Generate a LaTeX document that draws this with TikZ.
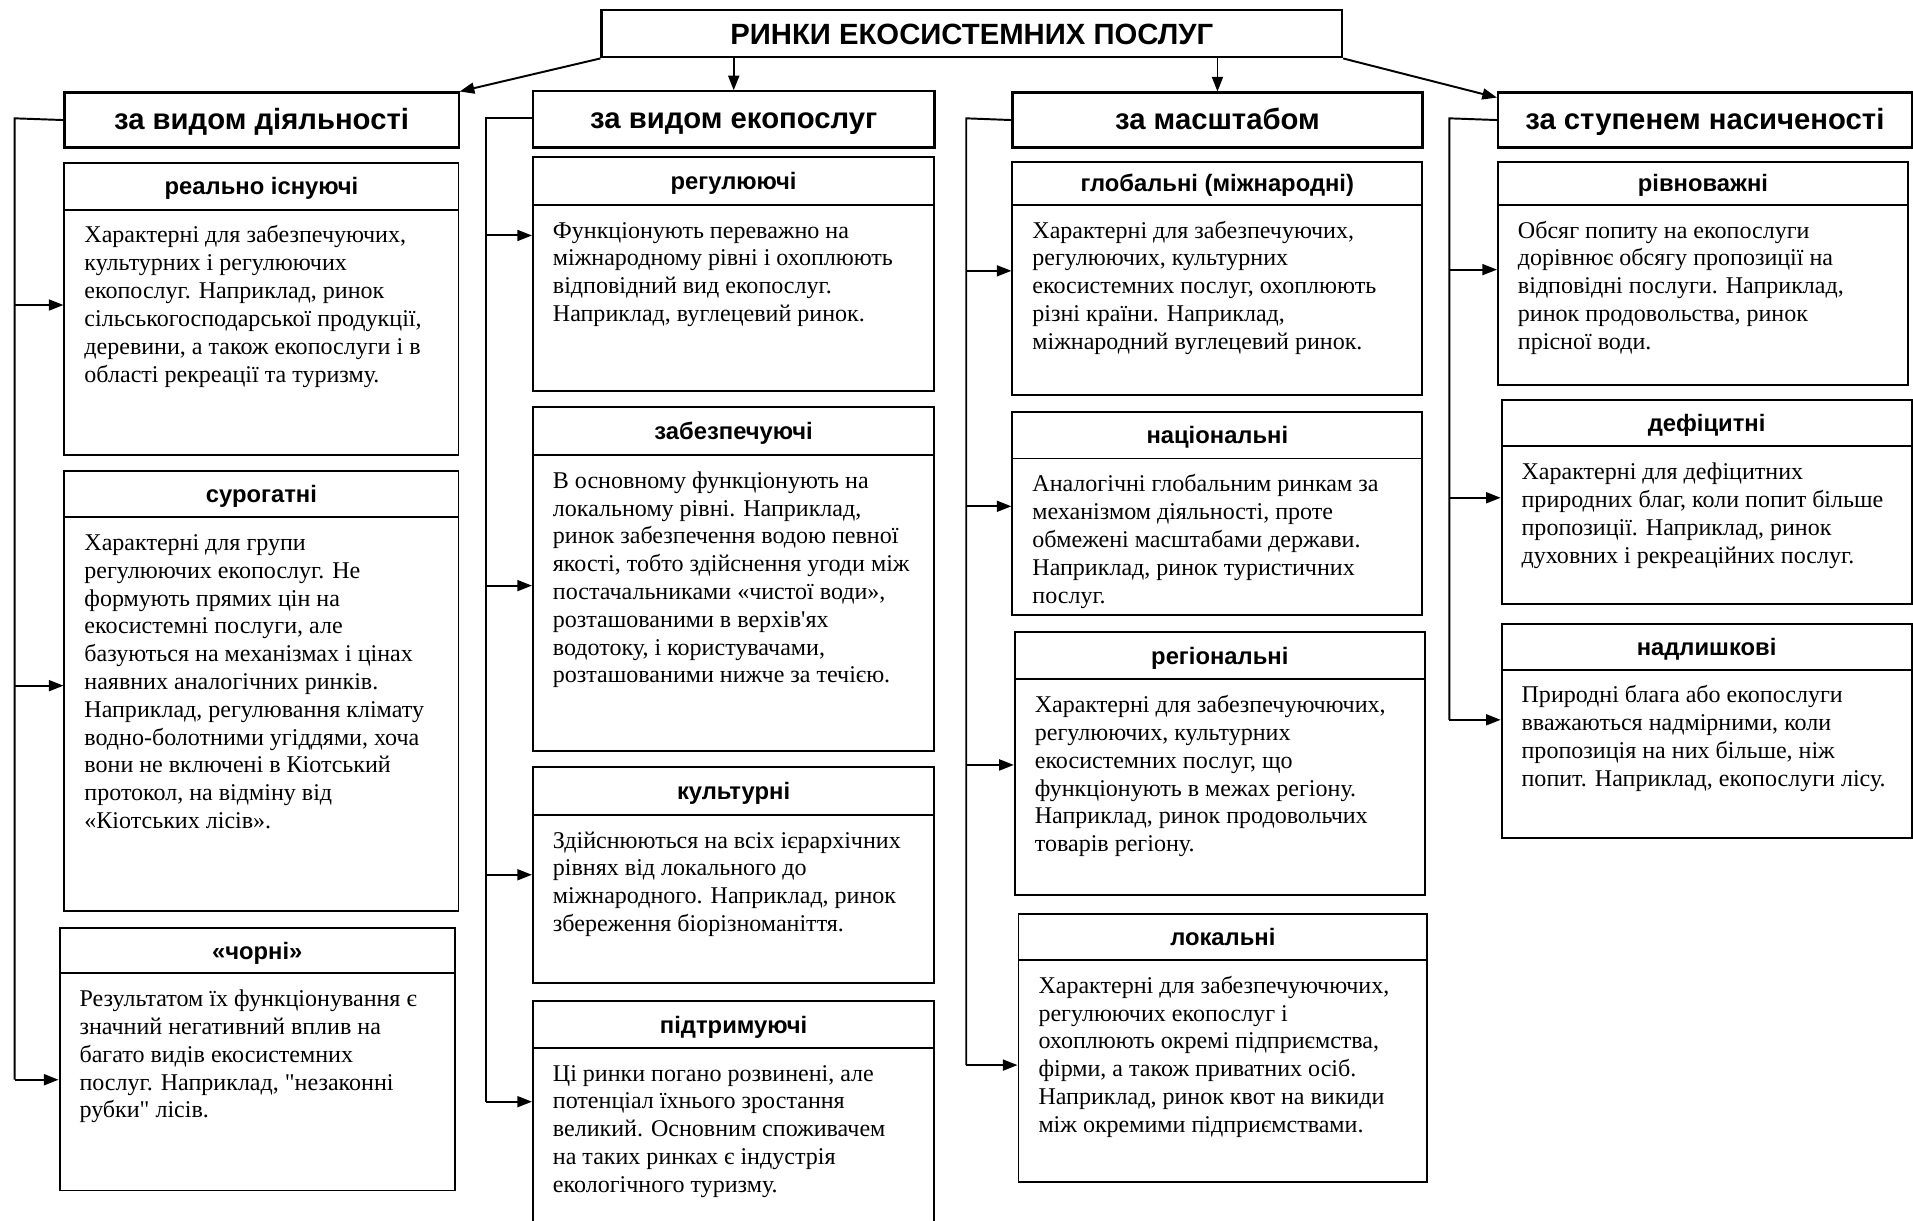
\documentclass[tikz,border=0pt]{standalone}
\usepackage{fontspec}
\setmainfont{Liberation Serif}[Ligatures=TeXOff]
\newfontfamily\hsans{Liberation Sans}
\usetikzlibrary{arrows.meta}
% name, x-left, y-top, y-separator, y-bottom, x-right, title, text, arrow-y
\newcommand\ecobox[9]{%
  \node[hdr, minimum width=#6pt-#2pt, minimum height=#4pt-#3pt] (#1h) at (#2,#3) {#7};
  \node[bodybox, minimum width=#6pt-#2pt, minimum height=#5pt-#4pt] (#1) at (#2,#4) {};
  \node[txt] (#1t) at ([xshift=17pt,yshift=-12pt]#1.north west) {\strut #8};
  \coordinate (#1-p) at (#2,#9);
}
\begin{document}
\begin{tikzpicture}[x=1pt,y=-1pt,
  ln/.style={line width=1.6pt},
  arr/.style={ln,-{Triangle[length=12pt,width=9pt]}},
  titlebox/.style={draw, line width=1.8pt, inner sep=0pt, text height=17.2pt, text depth=0pt, font=\hsans\bfseries\fontsize{24}{28}\selectfont},
  cat/.style={draw, line width=1.8pt, inner sep=0pt, anchor=north west, text height=20pt, text depth=5pt, font=\hsans\bfseries\fontsize{24}{28}\selectfont},
  hdr/.style={draw, line width=1.6pt, inner sep=0pt, anchor=north west, text height=18pt, text depth=4pt, font=\hsans\bfseries\fontsize{19.5}{23}\selectfont},
  bodybox/.style={draw, line width=1.6pt, inner sep=0pt, anchor=north west},
  txt/.style={inner sep=0pt, anchor=north west, align=left, font=\fontsize{19.7}{22.8}\selectfont}
]
\useasboundingbox (0,0) rectangle (1568,1000);

% title and categories
\node[titlebox, minimum width=607pt, minimum height=39pt] (T) at (796.5,27.5) {РИНКИ ЕКОСИСТЕМНИХ ПОСЛУГ};
\node[cat, minimum width=323pt, minimum height=45pt] (k1) at (52,75) {за видом діяльності};
\node[cat, minimum width=329pt, minimum height=46pt] (k2) at (436,74) {за видом екопослуг};
\node[cat, minimum width=336pt, minimum height=45pt] (k3) at (829,75) {за масштабом};
\node[cat, minimum width=339pt, minimum height=45pt] (k4) at (1227,75) {за ступенем насиченості};

\draw[arr] (T.south west) -- (k1.north east);
\draw[arr] (T.south -| k2.north) -- (k2.north);
\draw[arr] (T.south -| k3.north) -- (k3.north);
\draw[arr] (T.south east) -- ([yshift=-5pt]k4.north west);

% column 1
\ecobox{c11}{52}{133}{171}{372}{375}{реально існуючі}{Характерні для забезпечуючих,\\культурних і регулюючих\\екопослуг. Наприклад, ринок\\сільськогосподарської продукції,\\деревини, а також екопослуги і в\\області рекреації та туризму.}{250}
\ecobox{c12}{52}{385}{423}{746}{375}{сурогатні}{Характерні для групи\\регулюючих екопослуг. Не\\формують прямих цін на\\екосистемні послуги, але\\базуються на механізмах і цінах\\наявних аналогічних ринків.\\Наприклад, регулювання клімату\\водно-болотними угіддями, хоча\\вони не включені в Кіотський\\протокол, на відміну від\\«Кіотських лісів».}{562}
\ecobox{c13}{48}{760}{797}{975}{372}{«чорні»}{Результатом їх функціонування є\\значний негативний вплив на\\багато видів екосистемних\\послуг. Наприклад, "незаконні\\рубки" лісів.}{885}

% column 2
\ecobox{c21}{436}{128}{167}{320}{765}{регулюючі}{Функціонують переважно на\\міжнародному рівні і охоплюють\\відповідний вид екопослуг.\\Наприклад, вуглецевий ринок.}{193}
\ecobox{c22}{436}{333}{372}{615}{765}{забезпечуючі}{В основному функціонують на\\локальному рівні. Наприклад,\\ринок забезпечення водою певної\\якості, тобто здійснення угоди між\\постачальниками «чистої води»,\\розташованими в верхів'ях\\водотоку, і користувачами,\\розташованими нижче за течією.}{480}
\ecobox{c23}{436}{628}{667}{805}{765}{культурні}{Здійснюються на всіх ієрархічних\\рівнях від локального до\\міжнародного. Наприклад, ринок\\збереження біорізноманіття.}{717}
\ecobox{c24}{436}{820}{858}{1006}{765}{підтримуючі}{Ці ринки погано розвинені, але\\потенціал їхнього зростання\\великий. Основним споживачем\\на таких ринках є індустрія\\екологічного туризму.}{903}

% column 3
\ecobox{c31}{829}{132}{167}{323}{1165}{глобальні (міжнародні)}{Характерні для забезпечуючих,\\регулюючих, культурних\\екосистемних послуг, охоплюють\\різні країни. Наприклад,\\міжнародний вуглецевий ринок.}{222}
\ecobox{c32}{829}{337}{375}{503}{1165}{національні}{Аналогічні глобальним ринкам за\\механізмом діяльності, проте\\обмежені масштабами держави.\\Наприклад, ринок туристичних\\послуг.}{415}
\ecobox{c33}{831}{517}{556}{733}{1167}{регіональні}{Характерні для забезпечуючючих,\\регулюючих, культурних\\екосистемних послуг, що\\функціонують в межах регіону.\\Наприклад, ринок продовольчих\\товарів регіону.}{627}
\ecobox{c34}{834}{748}{786}{968}{1169}{локальні}{Характерні для забезпечуючючих,\\регулюючих екопослуг і\\охоплюють окремі підприємства,\\фірми, а також приватних осіб.\\Наприклад, ринок квот на викиди\\між окремими підприємствами.}{873}

% column 4
\ecobox{c41}{1227}{132}{167}{315}{1563}{рівноважні}{Обсяг попиту на екопослуги\\дорівнює обсягу пропозиції на\\відповідні послуги. Наприклад,\\ринок продовольства, ринок\\прісної води.}{221}
\ecobox{c42}{1230}{327}{365}{494}{1566}{дефіцитні}{Характерні для дефіцитних\\природних благ, коли попит більше\\пропозиції. Наприклад, ринок\\духовних і рекреаційних послуг.}{408}
\ecobox{c43}{1230}{511}{548}{686}{1566}{надлишкові}{Природні блага або екопослуги\\вважаються надмірними, коли\\пропозиція на них більше, ніж\\попит. Наприклад, екопослуги лісу.}{590}

% buses
\coordinate (bus1) at (12,97);
\coordinate (bus2) at (398,97);
\coordinate (bus3) at (792,97);
\coordinate (bus4) at (1188,97);
\draw[ln] (k1.west) -- (bus1) -- (bus1 |- c13-p);
\draw[ln] (k2.west |- bus2) -- (bus2) -- (bus2 |- c24-p);
\draw[ln] (k3.west) -- (bus3) -- (bus3 |- c34-p);
\draw[ln] (k4.west) -- (bus4) -- (bus4 |- c43-p);
\foreach \n in {c11,c12,c13} \draw[arr] (bus1 |- \n-p) -- (\n-p);
\foreach \n in {c21,c22,c23,c24} \draw[arr] (bus2 |- \n-p) -- (\n-p);
\foreach \n in {c31,c32,c33,c34} \draw[arr] (bus3 |- \n-p) -- (\n-p);
\foreach \n in {c41,c42,c43} \draw[arr] (bus4 |- \n-p) -- (\n-p);
\end{tikzpicture}
\end{document}
